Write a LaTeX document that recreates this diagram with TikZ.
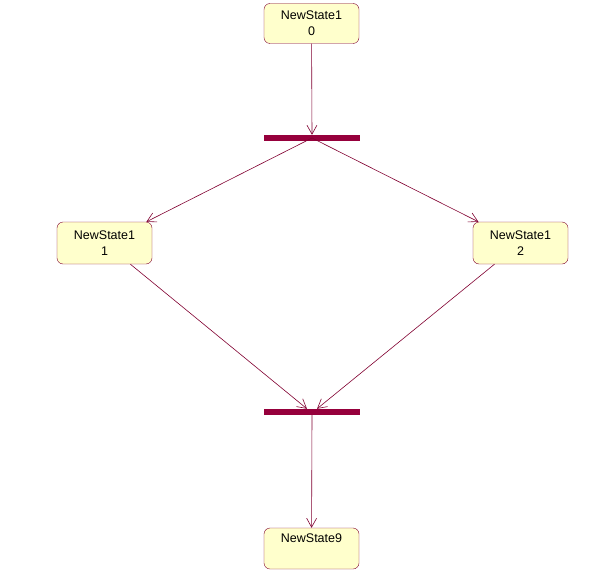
\documentclass[tikz,border=0pt]{standalone}
\usepackage{fontspec}
\setmainfont{Liberation Sans}
\usetikzlibrary{positioning,arrows.meta}

\definecolor{stateline}{RGB}{128,0,48}
\definecolor{statefill}{RGB}{255,255,204}
\definecolor{barfill}{RGB}{150,0,60}

\begin{document}
\begin{tikzpicture}[x=1pt, y=-1pt, >={Straight Barb[length=9pt,width=10pt]},
  every node/.style={font=\fontsize{12.5}{16}\selectfont},
  state/.style={draw=stateline, fill=statefill, rounded corners=6pt, minimum width=95pt, minimum height=40pt, align=center, inner sep=2pt},
  syncbar/.style={fill=barfill, minimum width=96pt, minimum height=6pt, inner sep=0pt},
  flow/.style={->, draw=stateline, line width=0.6pt}]
  \useasboundingbox (0,0) rectangle (612,583);
  \node[state] (s0) at (311.5,23.5) {NewState1\\0};
  \node[syncbar] (fork) at (312,138) {};
  \node[state, minimum height=42pt] (s1) at (104.5,243) {NewState1\\1};
  \node[state, minimum height=42pt] (s2) at (520.5,243) {NewState1\\2};
  \node[syncbar] (join) at (312,412) {};
  \node[state, minimum height=41pt] (s9) at (311.5,548.5) {NewState9\\\strut};
  \draw[flow] (s0) -- (fork.north);
  \draw[flow] (fork.center) -- (s1);
  \draw[flow] (fork.center) -- (s2);
  \draw[flow] (s1) -- ([xshift=-5pt]join.north);
  \draw[flow] (s2) -- ([xshift=5pt]join.north);
  \draw[flow] (join.south) -- (s9);
\end{tikzpicture}
\end{document}
